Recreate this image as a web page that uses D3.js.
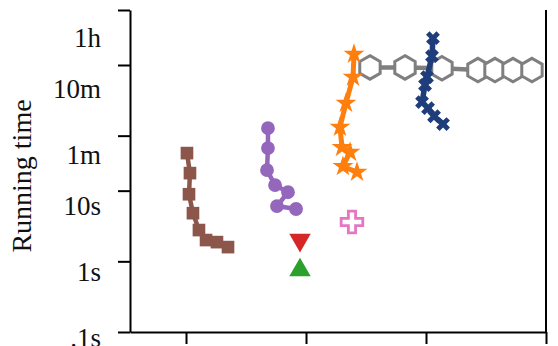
<!DOCTYPE html>
<html><head><meta charset="utf-8">
<script src="https://cdn.jsdelivr.net/npm/d3@7"></script>
<style>
html,body{margin:0;padding:0;background:#fff;}
svg{display:block;}
text{font-family:"Liberation Serif","DejaVu Serif",serif;fill:#111;}
</style></head>
<body>
<svg id="chart" width="558" height="346"></svg>
<script>
// ---- data (x position, running time in seconds) ----
const yTickValues = [0.1, 1, 10, 60, 600, 3600];
const yTickLabels = [".1s", "1s", "10s", "1m", "10m", "1h"];
const xTickValues = [1, 2, 3, 4];

const brownX = [1.008, 1.033, 1.025, 1.058, 1.108, 1.167, 1.258, 1.350];
const brownY = [34, 17.7, 8.9, 4.8, 2.77, 2.0, 1.87, 1.59];

const purpleX = [1.683, 1.683, 1.675, 1.742, 1.850, 1.758, 1.917];
const purpleY = [76.7, 40, 19.5, 12, 9.5, 6.05, 5.5];

const redX = [1.95];
const redY = [2.0];
const greenX = [1.95];
const greenY = [0.75];

const orangeX = [2.400, 2.392, 2.333, 2.283, 2.300, 2.367, 2.308, 2.425];
const orangeY = [855, 405, 173, 79, 41, 35, 22, 18.3];

const pinkX = [2.383];
const pinkY = [3.6];

const grayX = [2.533, 2.825, 3.133, 3.433, 3.575, 3.725, 3.883];
const grayY = [555, 555, 540, 508, 508, 508, 508];

const navyX = [3.058, 3.050, 3.008, 2.992, 2.967, 3.017, 3.067, 3.142];
const navyY = [1439, 801, 405, 312, 179, 147, 113, 87.5];

// ---- layout ----
const svg = d3.select("#chart");
const mLeft = 130, mRight = 546, mTop = 10, mBottom = 332;

const x = d3.scaleLinear().domain([0.5333, 4]).range([mLeft, mRight]);
const y = d3.scaleLog().domain([0.1, 3600]).range([mBottom, mTop]);
// tick labels sit on a slightly compressed copy of the y scale (as in the reference)
const yLab = d3.scaleLog().domain([0.1, 3600]).range([346.5, 46.5]);

// axes
const gL = svg.append("g").attr("transform", `translate(${mLeft},0)`)
  .call(d3.axisLeft(y).tickValues(yTickValues).tickFormat("").tickSizeInner(12).tickSizeOuter(0));
const gB = svg.append("g").attr("transform", `translate(0,${mBottom})`)
  .call(d3.axisBottom(x).tickValues(xTickValues).tickFormat("").tickSizeInner(12).tickSizeOuter(0));
[gL, gB].forEach(g => {
  g.selectAll("path,line").attr("stroke", "#000").attr("stroke-width", 2);
});
svg.append("line").attr("x1", x(4)).attr("x2", x(4)).attr("y1", mTop).attr("y2", mBottom)
  .attr("stroke", "#000").attr("stroke-width", 2);

svg.append("g").selectAll("text").data(yTickValues).join("text")
  .attr("x", 101).attr("y", d => yLab(d))
  .attr("text-anchor", "end").attr("font-size", 27)
  .text((d, i) => yTickLabels[i]);

svg.append("text")
  .attr("transform", "translate(31,176) rotate(-90)")
  .attr("text-anchor", "middle").attr("font-size", 28)
  .text("Running time");

// ---- marks ----
const hexagon = {
  draw(ctx, size) {
    const r = Math.sqrt(size / (1.5 * Math.sqrt(3)));
    for (let i = 0; i < 6; i++) {
      const a = -Math.PI / 2 + i * Math.PI / 3;
      const px = r * Math.cos(a), py = r * Math.sin(a);
      if (i === 0) ctx.moveTo(px, py); else ctx.lineTo(px, py);
    }
    ctx.closePath();
  }
};

function series(xs, ys, color, opts) {
  const g = svg.append("g");
  const pts = xs.map((v, i) => [x(v), y(ys[i])]);
  if (pts.length > 1) {
    g.append("path").attr("d", d3.line()(pts)).attr("fill", "none")
      .attr("stroke", color).attr("stroke-width", opts.lw || 4.5)
      .attr("stroke-linejoin", "round");
  }
  g.selectAll("path.m").data(pts).join("path").attr("class", "m")
    .attr("d", d3.symbol().type(opts.type).size(opts.size))
    .attr("transform", d => `translate(${d[0]},${d[1]}) rotate(${opts.rot || 0})`)
    .attr("fill", opts.fill || color)
    .attr("stroke", opts.stroke || "none")
    .attr("stroke-width", opts.sw || 0);
}

series(brownX, brownY, "#8c564b", {type: d3.symbolSquare, size: 160});
series(purpleX, purpleY, "#9467bd", {type: d3.symbolCircle, size: 150});
series(redX, redY, "#d62728", {type: d3.symbolTriangle, size: 200, rot: 180});
series(greenX, greenY, "#2ca02c", {type: d3.symbolTriangle, size: 200});
series(pinkX, pinkY, "#e377c2", {type: d3.symbolCross, size: 260, fill: "#fff", stroke: "#e377c2", sw: 2.8});
series(grayX, grayY, "#7f7f7f", {type: hexagon, size: 360, fill: "#fff", stroke: "#7f7f7f", sw: 3, lw: 4.5});
series(orangeX, orangeY, "#ff7f0e", {type: d3.symbolStar, size: 135, lw: 5});
series(navyX, navyY, "#1f3d7a", {type: d3.symbolCross, size: 120, rot: 45, lw: 5.5});
</script>
</body></html>
